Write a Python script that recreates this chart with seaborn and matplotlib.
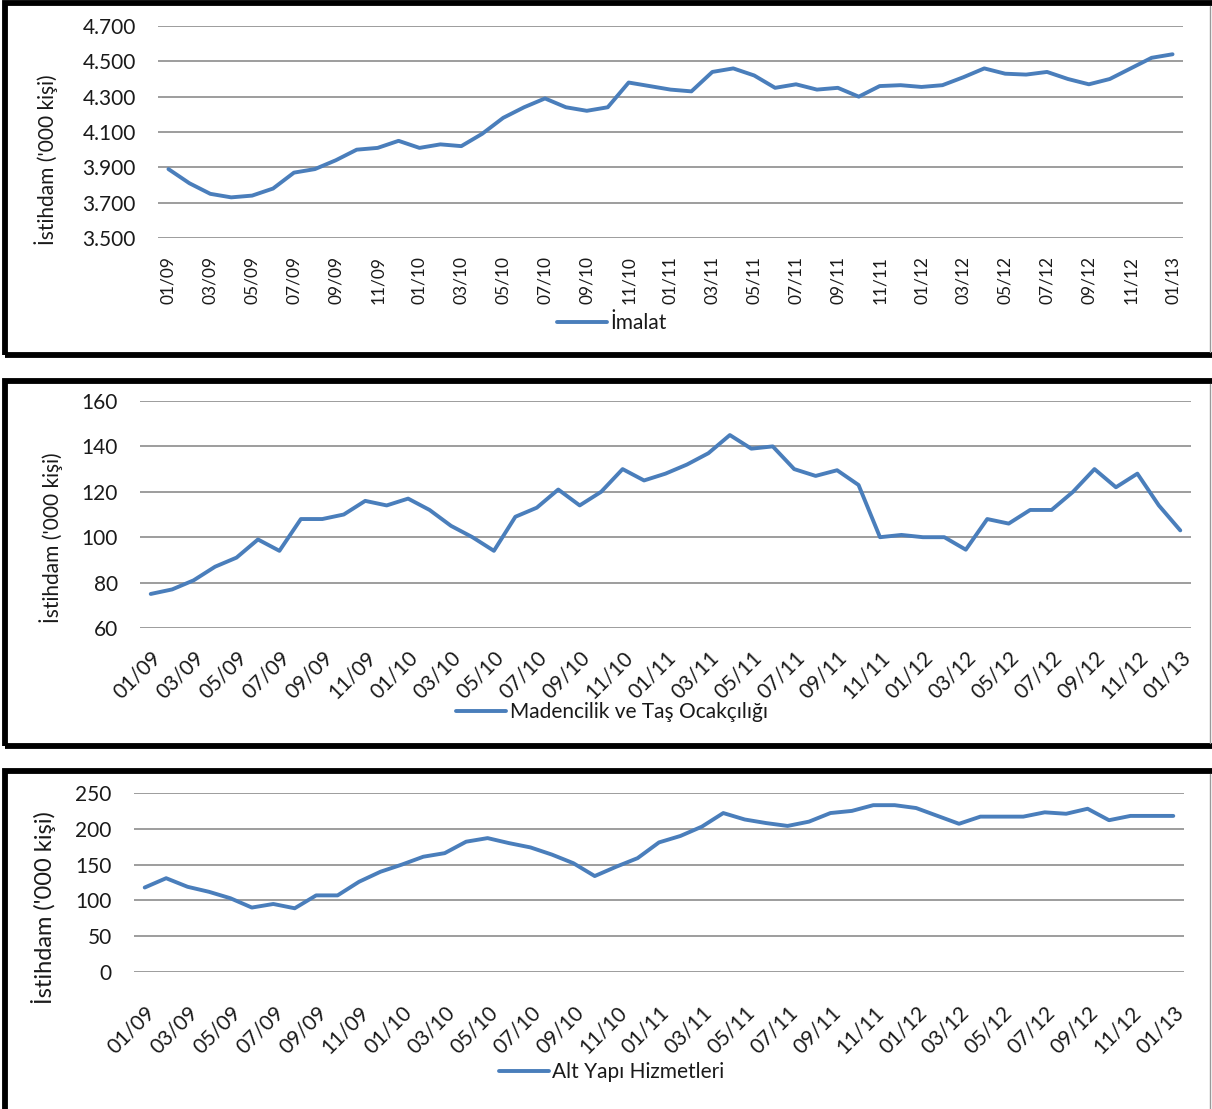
import numpy as np
import pandas as pd
import seaborn as sns
import matplotlib.pyplot as plt
from matplotlib.patches import Rectangle
from matplotlib.lines import Line2D

# month labels 01/09 .. 01/13
months = ['01/09', '02/09', '03/09', '04/09', '05/09', '06/09', '07/09', '08/09', '09/09', '10/09', '11/09', '12/09',
          '01/10', '02/10', '03/10', '04/10', '05/10', '06/10', '07/10', '08/10', '09/10', '10/10', '11/10', '12/10',
          '01/11', '02/11', '03/11', '04/11', '05/11', '06/11', '07/11', '08/11', '09/11', '10/11', '11/11', '12/11',
          '01/12', '02/12', '03/12', '04/12', '05/12', '06/12', '07/12', '08/12', '09/12', '10/12', '11/12', '12/12',
          '01/13']

imalat = [3890, 3810, 3750, 3730, 3740, 3780, 3870, 3890, 3940, 4000, 4010, 4050,
          4010, 4030, 4020, 4090, 4180, 4240, 4290, 4240, 4220, 4240, 4380, 4360,
          4340, 4330, 4440, 4460, 4420, 4350, 4370, 4340, 4350, 4300, 4360, 4365,
          4355, 4365, 4410, 4460, 4430, 4425, 4440, 4400, 4370, 4400, 4460, 4520,
          4540]

madencilik = [75, 77, 81, 87, 91, 99, 94, 108, 108, 110, 116, 114,
              117, 112, 105, 100, 94, 109, 113, 121, 114, 120, 130, 125,
              128, 132, 137, 145, 139, 140, 130, 127, 129.5, 123, 100, 101,
              100, 100, 94.5, 108, 106, 112, 112, 120, 130, 122, 128, 114,
              103]

altyapi = [118, 131, 119, 112, 103, 90, 95, 89, 107, 107, 126, 140,
           150, 161, 166, 182, 187, 180, 174, 164, 152, 134, 147, 159,
           181, 190, 203, 222, 213, 208, 204, 210, 222, 225, 233, 233,
           229, 218, 207, 217, 217, 217, 223, 221, 228, 212, 218, 218,
           218]

W, H = 1212, 1109
blue = '#4A7EBB'
ink = '#1a1a1a'

sns.set_style('white')
plt.rcParams['font.family'] = ['Lato', 'DejaVu Sans']

fig = plt.figure(figsize=(W / 100, H / 100), dpi=100)


def rect(x0, y0, x1, y1):
    # pixel box -> figure fraction rect
    return [x0 / W, 1 - y1 / H, (x1 - x0) / W, (y1 - y0) / H]


def panel(box, ax_box, values, ylim, yticks, yfmt, rot, label, legend_y,
          ylab_xy, ylab_size, xpad, xsize):
    # thick black frame round each chart
    x0, y0, x1, y1 = box
    fig.patches.append(Rectangle((x0 / W, 1 - y1 / H), (x1 - x0) / W, (y1 - y0) / H,
                                 transform=fig.transFigure, fill=False,
                                 edgecolor='black', linewidth=4.2))
    fig.lines.append(Line2D([1209.5 / W, 1209.5 / W], [1 - (y1 - 3) / H, 1 - (y0 + 3) / H],
                            transform=fig.transFigure, color='#999999', linewidth=1))

    ax = fig.add_axes(rect(*ax_box))
    df = pd.DataFrame({'pos': np.arange(len(months)), 'val': values})
    sns.lineplot(data=df, x='pos', y='val', ax=ax, color=blue, linewidth=2.8, label=label)
    ax.set_xlim(-0.5, len(months) - 0.5)
    ax.set_ylim(*ylim)
    ax.set_yticks(yticks)
    ax.set_yticklabels([yfmt(v) for v in yticks], fontsize=15)
    ax.set_xticks(np.arange(0, len(months), 2))
    if rot == 90:
        ax.set_xticklabels(months[::2], rotation=90, fontsize=xsize)
    else:
        ax.set_xticklabels(months[::2], rotation=45, ha='right', rotation_mode='anchor', fontsize=xsize)
    ax.tick_params(axis='y', length=0, pad=16, colors=ink)
    ax.tick_params(axis='x', length=0, pad=xpad, colors=ink)
    ax.grid(axis='y', color='#8c8c8c', linewidth=1.2)
    ax.grid(axis='x', visible=False)
    for s in ax.spines.values():
        s.set_visible(False)
    ax.set_xlabel('')
    ax.set_ylabel('')
    ax.set_axisbelow(True)
    leg = ax.legend(loc='center', bbox_to_anchor=(612 / W, 1 - legend_y / H),
                    bbox_transform=fig.transFigure, frameon=False, fontsize=15,
                    handlelength=2.4, handletextpad=0.15)
    for t in leg.get_texts():
        t.set_color(ink)
    fig.text(ylab_xy[0] / W, 1 - ylab_xy[1] / H, "İstihdam ('000 kişi)",
             rotation=90, ha='center', va='center', fontsize=ylab_size, color=ink)
    return ax


panel((5, 3, 1216, 355), (158, 26, 1183, 238), imalat, (3500, 4700),
      [3500, 3700, 3900, 4100, 4300, 4500, 4700],
      lambda v: f'{v / 1000:.3f}', 90, 'İmalat', 323, (46, 160), 15, 13, 12.5)

panel((5, 381, 1216, 746), (140, 401, 1191, 628), madencilik, (60, 160),
      [60, 80, 100, 120, 140, 160],
      lambda v: f'{v}', 45, 'Madencilik ve Taş Ocakçılığı', 712, (51, 538), 15, 14, 15)

panel((5, 771, 1216, 1112), (134, 793, 1184, 972), altyapi, (0, 250),
      [0, 50, 100, 150, 200, 250],
      lambda v: f'{v}', 45, 'Alt Yapı Hizmetleri', 1072, (44, 908), 17, 22, 15)

fig.savefig('out.png', dpi=100, facecolor='white')
